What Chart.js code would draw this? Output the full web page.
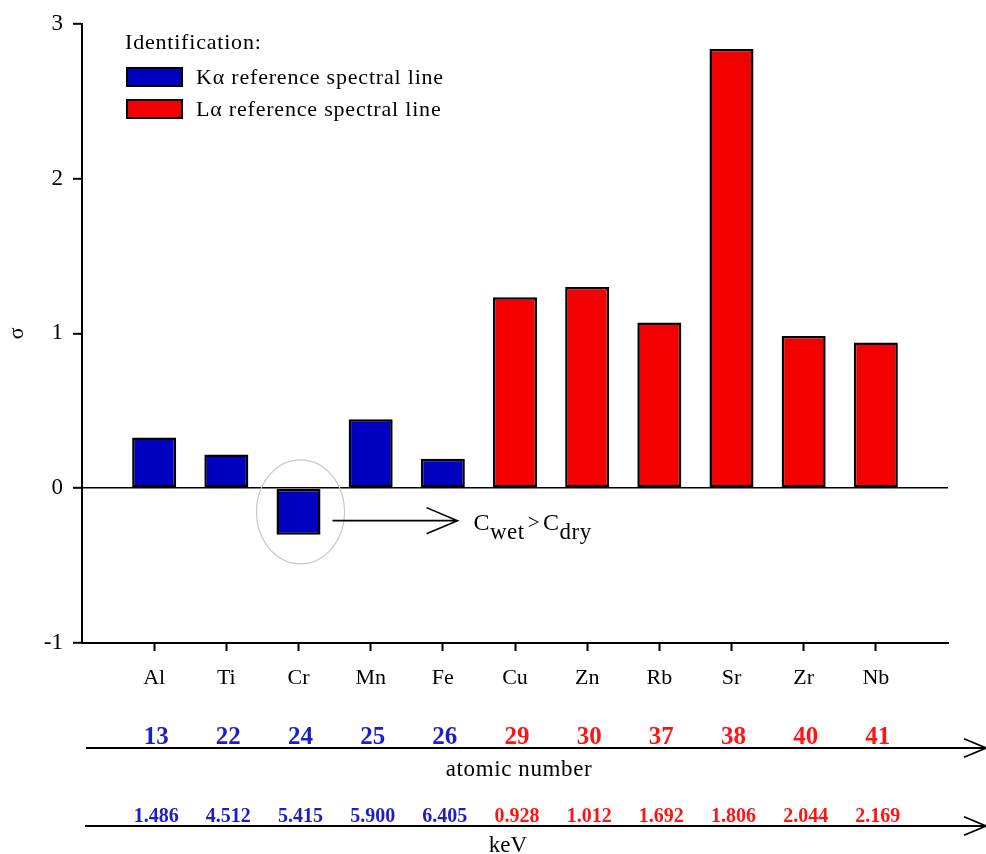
<!DOCTYPE html>
<html>
<head>
<meta charset="utf-8">
<script src="https://cdn.jsdelivr.net/npm/chart.js@4.4.1/dist/chart.umd.min.js"></script>
<style>
html,body{margin:0;padding:0;background:#fff;}
#wrap{width:986px;height:854px;position:relative;}
</style>
</head>
<body>
<div id="wrap"><canvas id="c"></canvas></div>
<script>
// ---- data ----
const elements = ['Al', 'Ti', 'Cr', 'Mn', 'Fe', 'Cu', 'Zn', 'Rb', 'Sr', 'Zr', 'Nb'];
const sigmaValues = [0.327, 0.218, -0.30, 0.445, 0.19, 1.233, 1.30, 1.07, 2.838, 0.983, 0.942];
const lineType = ['K', 'K', 'K', 'K', 'K', 'L', 'L', 'L', 'L', 'L', 'L'];
const atomicNumbers = ['13', '22', '24', '25', '26', '29', '30', '37', '38', '40', '41'];
const keVValues = ['1.486', '4.512', '5.415', '5.900', '6.405', '0.928', '1.012', '1.692', '1.806', '2.044', '2.169'];
const yTicks = [-1, 0, 1, 2, 3];
const legendLabels = {K: 'K\u03B1 reference spectral line', L: 'L\u03B1 reference spectral line'};
const legendTitle = 'Identification:';
const highlightElement = 'Cr';

const barColors = {K: '#0000C0', L: '#F50000'};
const textColors = {K: '#1C1CC8', L: '#FF1414'};
const SERIF = '"Liberation Serif", "Times New Roman", serif';

// padded categories (one empty slot on each side)
const labels = [''].concat(elements, ['']);
const data = [null].concat(sigmaValues, [null]);
const colors = ['#000'].concat(lineType.map(t => barColors[t]), ['#000']);

function arrowLine(ctx, x1, x2, y, head) {
  ctx.beginPath();
  ctx.moveTo(x1, y); ctx.lineTo(x2, y);
  ctx.moveTo(x2 - head, y - head * 0.42); ctx.lineTo(x2, y); ctx.lineTo(x2 - head, y + head * 0.42);
  ctx.stroke();
}
function spaced(ctx, sp) { if ('letterSpacing' in ctx) ctx.letterSpacing = sp; }

const extras = {
  id: 'extras',
  afterDraw(chart) {
    const ctx = chart.ctx;
    const xs = chart.scales.x;
    const area = chart.chartArea;
    ctx.save();
    // legend
    ctx.fillStyle = '#000';
    ctx.font = '22px ' + SERIF;
    spaced(ctx, '0.8px');
    ctx.textAlign = 'left';
    ctx.textBaseline = 'middle';
    ctx.fillText(legendTitle, area.left + 43, 43);
    ['K', 'L'].forEach((t, i) => {
      const y = 68 + i * 32;
      ctx.fillStyle = barColors[t];
      ctx.fillRect(area.left + 45, y, 55, 18);
      ctx.strokeStyle = '#000'; ctx.lineWidth = 2;
      ctx.strokeRect(area.left + 45, y, 55, 18);
      ctx.fillStyle = '#000';
      ctx.fillText(legendLabels[t], area.left + 114, y + 10);
    });

    // highlight ellipse & arrow around the negative bar
    const meta = chart.getDatasetMeta(0);
    const idx = labels.indexOf(highlightElement);
    const el = meta.data[idx];
    if (el) {
      const cx = el.x, top = Math.min(el.y, el.base), bot = Math.max(el.y, el.base);
      const cy = (top + bot) / 2;
      ctx.strokeStyle = '#C8C8C8'; ctx.lineWidth = 1.2;
      ctx.beginPath();
      ctx.ellipse(cx + 2, cy, 44, 52, 0, 0, Math.PI * 2);
      ctx.stroke();
      ctx.strokeStyle = '#000'; ctx.lineWidth = 1.6;
      const ay = bot - 14;
      arrowLine(ctx, cx + 34, cx + 159, ay, 31);
      // C_wet > C_dry
      ctx.fillStyle = '#000';
      ctx.textBaseline = 'alphabetic';
      ctx.textAlign = 'left';
      spaced(ctx, '0.5px');
      let x = cx + 175;
      const base = ay + 9, sub = ay + 18;
      ctx.font = '24px ' + SERIF;
      ctx.fillText('C', x, base); x += ctx.measureText('C').width;
      ctx.font = '23px ' + SERIF;
      ctx.fillText('wet', x, sub); x += ctx.measureText('wet').width + 3;
      ctx.font = '21px ' + SERIF;
      ctx.fillText('>', x, base - 1); x += ctx.measureText('>').width + 3;
      ctx.font = '24px ' + SERIF;
      ctx.fillText('C', x, base); x += ctx.measureText('C').width;
      ctx.font = '23px ' + SERIF;
      ctx.fillText('dry', x, sub);
    }

    // atomic number row
    spaced(ctx, '0px');
    ctx.textAlign = 'center';
    ctx.textBaseline = 'alphabetic';
    ctx.font = 'bold 25px ' + SERIF;
    elements.forEach((e, i) => {
      const px = xs.getPixelForValue(i + 1);
      ctx.fillStyle = textColors[lineType[i]];
      ctx.fillText(atomicNumbers[i], px + 2, 744);
    });
    ctx.strokeStyle = '#000'; ctx.lineWidth = 1.8;
    arrowLine(ctx, 86, 986, 748, 22);
    ctx.fillStyle = '#000';
    ctx.font = '23px ' + SERIF;
    spaced(ctx, '0.6px');
    ctx.fillText('atomic number', 519, 776);

    // keV row
    spaced(ctx, '0px');
    ctx.font = 'bold 20px ' + SERIF;
    elements.forEach((e, i) => {
      const px = xs.getPixelForValue(i + 1);
      ctx.fillStyle = textColors[lineType[i]];
      ctx.fillText(keVValues[i], px + 2, 822);
    });
    ctx.strokeStyle = '#000'; ctx.lineWidth = 1.8;
    arrowLine(ctx, 85, 986, 826, 22);
    ctx.fillStyle = '#000';
    ctx.font = '23px ' + SERIF;
    ctx.fillText('keV', 508, 852);
    ctx.restore();
  }
};

new Chart(document.getElementById('c'), {
  type: 'bar',
  data: {
    labels: labels,
    datasets: [{
      label: 'sigma',
      data: data,
      backgroundColor: colors,
      borderColor: '#000',
      borderWidth: 2.5,
      borderSkipped: false,
      categoryPercentage: 1,
      barPercentage: 0.61
    }]
  },
  options: {
    responsive: true,
    maintainAspectRatio: false,
    animation: false,
    devicePixelRatio: 1,
    layout: {padding: {top: 19, right: 38, left: 0, bottom: 0}},
    plugins: {legend: {display: false}, tooltip: {enabled: false}},
    scales: {
      x: {
        type: 'category',
        offset: false,
        afterFit(s) { s.height = 211; },
        grid: {
          offset: false,
          drawOnChartArea: false,
          drawTicks: true,
          tickLength: 8,
          tickWidth: 2,
          tickColor: (c) => (labels[c.index] ? '#000' : 'rgba(0,0,0,0)')
        },
        border: {display: true, color: '#000', width: 2},
        ticks: {
          autoSkip: false,
          maxRotation: 0,
          padding: 14,
          color: '#000',
          font: {family: SERIF, size: 22}
        }
      },
      y: {
        min: -1,
        max: 3,
        afterFit(s) { s.width = 82; },
        afterBuildTicks(s) { s.ticks = yTicks.map(v => ({value: v})); },
        grid: {
          drawOnChartArea: true,
          drawTicks: true,
          tickLength: 9,
          tickWidth: 2,
          tickColor: '#000',
          color: (c) => (c.tick && c.tick.value === 0 ? '#000' : 'rgba(0,0,0,0)'),
          lineWidth: 1.6
        },
        border: {display: true, color: '#000', width: 2},
        ticks: {
          padding: 10,
          color: '#000',
          font: {family: SERIF, size: 23},
          callback: (v) => String(v)
        },
        title: {
          display: true,
          text: '\u03C3',
          color: '#000',
          padding: {top: 4, bottom: 0},
          font: {family: SERIF, size: 22}
        }
      }
    }
  },
  plugins: [extras]
});
</script>
</body>
</html>
